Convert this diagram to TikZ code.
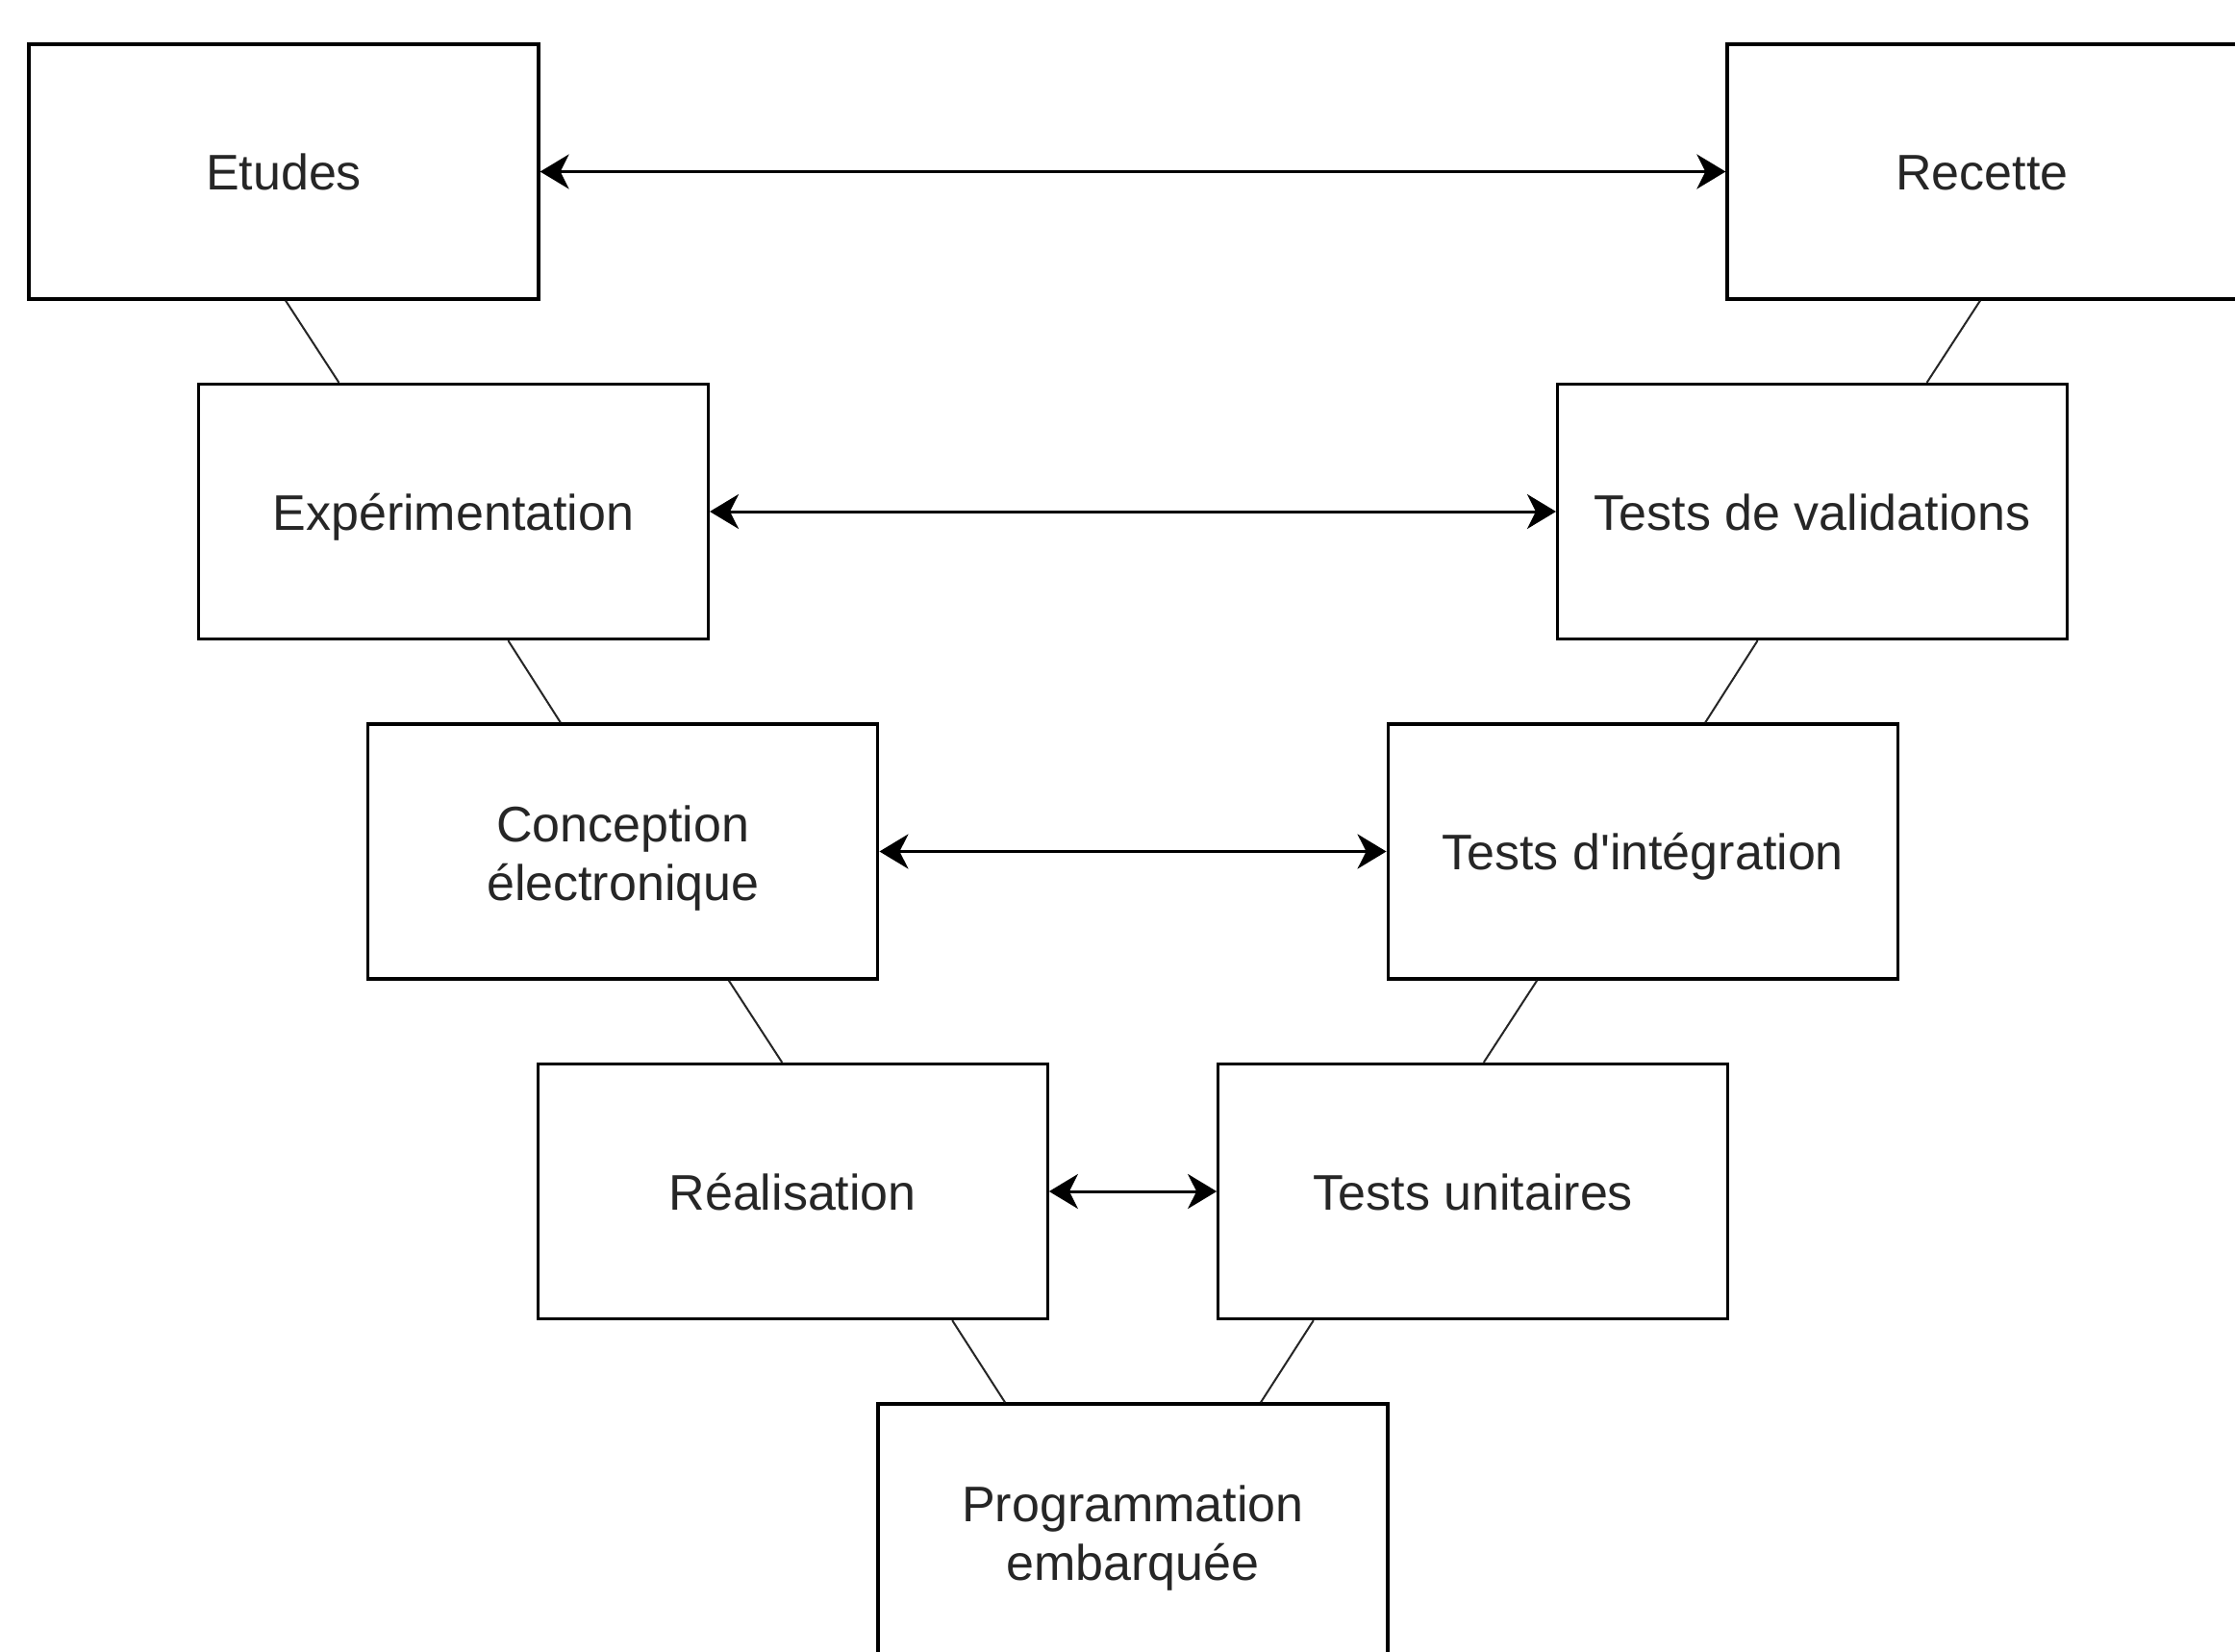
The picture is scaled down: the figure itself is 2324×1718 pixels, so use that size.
\documentclass[tikz,border=0pt]{standalone}
\usepackage{fontspec}
\setmainfont{Liberation Sans}
\usetikzlibrary{arrows.meta}
\begin{document}
\begin{tikzpicture}[x=1pt,y=-1pt,
  box/.style={draw=black, fill=white, line width=3.3pt, minimum width=530pt, minimum height=265pt,
    inner sep=0pt, align=center, font=\fontsize{52}{61}\selectfont, text=black!85},
  onebox/.style={box, text height=38.5pt, text depth=0pt},
  link/.style={line width=3pt, {Stealth[length=30pt,width=36pt,inset=9pt]}-{Stealth[length=30pt,width=36pt,inset=9pt]}},
  tie/.style={line width=2pt, draw=black!85}]
\useasboundingbox (0,0) rectangle (2324,1718);
\fill[white] (0,0) rectangle (2324,1718);
\clip (0,0) rectangle (2324,1718);
% left branch
\node[onebox] (etu)  at (295,178.5)   {Etudes};
\node[onebox] (exp)  at (471.4,532)   {Expérimentation};
\node[box]    (con)  at (647.8,885.5) {\rule{0pt}{51pt}Conception\\électronique};
\node[onebox] (rea)  at (824.2,1239)  {Réalisation};
% bottom
\node[box]    (pro)  at (1178,1592.5) {\rule{0pt}{51pt}Programmation\\embarquée};
% right branch
\node[onebox] (rec)  at (2061,178.5)   {Recette};
\node[onebox] (tva)  at (1884.6,532)   {Tests de validations};
\node[onebox] (tin)  at (1708.2,885.5) {Tests d\textquotesingle intégration};
\node[onebox] (tun)  at (1531.8,1239)  {Tests unitaires};
% horizontal double arrows
\draw[link] (etu.east) -- (rec.west);
\draw[link] (exp.east) -- (tva.west);
\draw[link] (con.east) -- (tin.west);
\draw[link] (rea.east) -- (tun.west);
% diagonal ties, left
\draw[tie] ([xshift=2pt]etu.south)    -- ([xshift=-119pt]exp.north);
\draw[tie] ([xshift=57pt]exp.south)   -- ([xshift=-65pt]con.north);
\draw[tie] ([xshift=110pt]con.south)  -- ([xshift=-11pt]rea.north);
\draw[tie] ([xshift=166pt]rea.south)  -- ([xshift=-133pt]pro.north);
% diagonal ties, right
\draw[tie] ([xshift=-2pt]rec.south)   -- ([xshift=119pt]tva.north);
\draw[tie] ([xshift=-57pt]tva.south)  -- ([xshift=65pt]tin.north);
\draw[tie] ([xshift=-110pt]tin.south) -- ([xshift=11pt]tun.north);
\draw[tie] ([xshift=-166pt]tun.south) -- ([xshift=133pt]pro.north);
\end{tikzpicture}
\end{document}
